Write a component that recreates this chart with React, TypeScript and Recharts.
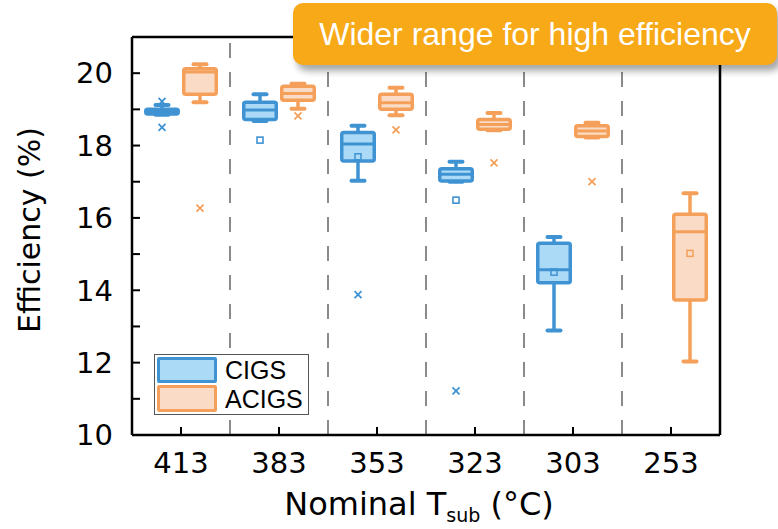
import React from 'react';
import { BarChart, Bar, XAxis, YAxis, ReferenceLine } from 'recharts';

const categories = ['413', '383', '353', '323', '303', '253'];

const cigsLow = [18.85, 18.68, 17.03, 17.0, 12.89, null];
const cigsQ1 = [18.87, 18.72, 17.57, 17.02, 14.21, null];
const cigsMedian = [18.94, 18.98, 18.04, 17.21, 14.57, null];
const cigsQ3 = [19.0, 19.2, 18.36, 17.36, 15.3, null];
const cigsHigh = [19.12, 19.42, 18.55, 17.55, 15.47, null];
const cigsMean = [null, null, 17.69, null, 14.5, null];
const cigsCross = [[19.22, 18.5], [], [13.88], [11.22], [], []];
const cigsSquare = [[], [18.15], [], [16.49], [], []];

const acigsLow = [19.2, 19.02, 18.84, 18.42, 18.22, 12.03];
const acigsQ1 = [19.42, 19.25, 19.0, 18.45, 18.25, 13.73];
const acigsMedian = [20.03, 19.44, 19.18, 18.58, 18.4, 15.62];
const acigsQ3 = [20.12, 19.64, 19.42, 18.72, 18.55, 16.1];
const acigsHigh = [20.25, 19.71, 19.6, 18.9, 18.63, 16.68];
const acigsMean = [null, null, null, null, null, 15.02];
const acigsCross = [[16.27], [18.82], [18.43], [17.52], [17.0], []];
const acigsSquare = [[], [], [], [], [], []];

const yTicks = [10, 11, 12, 13, 14, 15, 16, 17, 18, 19, 20];

const seriesNames = ['CIGS', 'ACIGS'];
const BLUE = '#3f93d3';
const BLUE_FILL = '#aadaf6';
const ORANGE = '#f4a05a';
const ORANGE_FILL = '#fadcc6';

const axisFont = "'DejaVu Sans', Verdana, sans-serif";
const textFont = "'Liberation Sans', Arial, sans-serif";

type Stats = {
  low: number; q1: number; median: number; q3: number; high: number;
  mean: number | null; cross: number[]; square: number[];
} | null;

const buildStats = (
  low: (number | null)[], q1: (number | null)[], med: (number | null)[],
  q3: (number | null)[], high: (number | null)[], mean: (number | null)[],
  cross: number[][], square: number[][], i: number
): Stats => {
  if (low[i] == null) return null;
  return {
    low: low[i] as number, q1: q1[i] as number, median: med[i] as number,
    q3: q3[i] as number, high: high[i] as number, mean: mean[i],
    cross: cross[i], square: square[i],
  };
};

const data = categories.map((cat, i) => {
  const c = buildStats(cigsLow, cigsQ1, cigsMedian, cigsQ3, cigsHigh, cigsMean, cigsCross, cigsSquare, i);
  const a = buildStats(acigsLow, acigsQ1, acigsMedian, acigsQ3, acigsHigh, acigsMean, acigsCross, acigsSquare, i);
  return {
    cat,
    cigs: c ? [c.low, c.high] : null,
    acigs: a ? [a.low, a.high] : null,
    cigsStats: c,
    acigsStats: a,
  };
});

const makeBoxShape = (key: 'cigsStats' | 'acigsStats', color: string, fill: string) => (props: any) => {
  const { x, y, width, height, payload } = props;
  const s: Stats = payload ? payload[key] : null;
  if (!s || x == null || y == null || height == null) return <g />;
  const top = Math.min(y, y + height);
  const bottom = Math.max(y, y + height);
  const span = s.high - s.low;
  const py = (v: number) => bottom - ((v - s.low) / span) * (bottom - top);
  const cx = x + width / 2;
  const sw = 3.5;
  const capW = 13;
  const boxTop = py(s.q3);
  const boxBot = py(s.q1);
  return (
    <g>
      <line x1={cx} x2={cx} y1={py(s.high)} y2={boxTop} stroke={color} strokeWidth={sw} />
      <line x1={cx} x2={cx} y1={boxBot} y2={py(s.low)} stroke={color} strokeWidth={sw} />
      <line x1={cx - capW / 2} x2={cx + capW / 2} y1={py(s.high)} y2={py(s.high)} stroke={color} strokeWidth={4} strokeLinecap="round" />
      <line x1={cx - capW / 2} x2={cx + capW / 2} y1={py(s.low)} y2={py(s.low)} stroke={color} strokeWidth={4} strokeLinecap="round" />
      <rect x={x + sw / 2} y={boxTop} width={width - sw} height={Math.max(boxBot - boxTop, 0.5)}
        fill={fill} stroke={color} strokeWidth={sw} rx={2} />
      <line x1={x + sw / 2} x2={x + width - sw / 2} y1={py(s.median)} y2={py(s.median)} stroke={color} strokeWidth={3} />
      {s.mean != null && (
        <rect x={cx - 3} y={py(s.mean) - 3} width={6} height={6} fill="none" stroke={color} strokeWidth={1.5} />
      )}
      {s.square.map((v, k) => (
        <rect key={'s' + k} x={cx - 3} y={py(v) - 3} width={6} height={6} fill="#fff" stroke={color} strokeWidth={1.6} />
      ))}
      {s.cross.map((v, k) => (
        <g key={'c' + k}>
          <line x1={cx - 3.5} x2={cx + 3.5} y1={py(v) - 3.5} y2={py(v) + 3.5} stroke={color} strokeWidth={1.8} />
          <line x1={cx - 3.5} x2={cx + 3.5} y1={py(v) + 3.5} y2={py(v) - 3.5} stroke={color} strokeWidth={1.8} />
        </g>
      ))}
    </g>
  );
};

const YLabel = (props: any) => {
  const vb = props.viewBox || { x: 0, y: 37, width: 132, height: 398 };
  const cy = vb.y + vb.height / 2 - 6;
  const lx = 40;
  return (
    <text x={lx} y={cy} transform={`rotate(-90 ${lx} ${cy})`} textAnchor="middle"
      fontSize={30} fontFamily={axisFont} fill="#000">Efficiency (%)</text>
  );
};

const XLabel = (props: any) => {
  const vb = props.viewBox || { x: 132, y: 435, width: 588, height: 94 };
  const cx = vb.x + vb.width / 2 - 7;
  const by = vb.y + 80;
  return (
    <text x={cx} y={by} textAnchor="middle" fontSize={32} fontFamily={axisFont} fill="#000">
      Nominal T<tspan fontSize={19} dy={7}>sub</tspan><tspan dy={-7}> (°C)</tspan>
    </text>
  );
};

const legendColors = [[BLUE, BLUE_FILL], [ORANGE, ORANGE_FILL]];

export default function App() {
  return (
    <div style={{ position: 'absolute', left: 0, top: 0, width: 778, height: 529, background: '#fff' }}>
      <BarChart width={778} height={529} data={data}
        margin={{ top: 37, right: 58, bottom: 0, left: 0 }}
        barSize={36} barGap={2}>
        <XAxis dataKey="cat" height={94} interval={0}
          tickSize={-8} tickMargin={25}
          axisLine={{ stroke: '#000', strokeWidth: 2.5 }}
          tickLine={{ stroke: '#000', strokeWidth: 2 }}
          tick={{ fill: '#000', fontSize: 29, fontFamily: axisFont }}
          label={<XLabel />} />
        <YAxis type="number" domain={[10, 21]} ticks={yTicks} interval={0} width={132}
          allowDataOverflow
          tickSize={-8} tickMargin={27}
          tickFormatter={(v: number) => (v % 2 === 0 ? String(v) : '')}
          axisLine={{ stroke: '#000', strokeWidth: 2.5 }}
          tickLine={{ stroke: '#000', strokeWidth: 2 }}
          tick={{ fill: '#000', fontSize: 29, fontFamily: axisFont }}
          label={<YLabel />} />
        {categories.slice(1).map((c) => (
          <ReferenceLine key={c} x={c} position="start" stroke="#8a8a8a" strokeWidth={2} strokeDasharray="15 14" />
        ))}
        <ReferenceLine x={categories[categories.length - 1]} position="end" stroke="#000" strokeWidth={2.5} />
        <ReferenceLine y={21} stroke="#000" strokeWidth={2.5} />
        <Bar dataKey="cigs" name={seriesNames[0]} isAnimationActive={false}
          shape={makeBoxShape('cigsStats', BLUE, BLUE_FILL)} activeBar={false} />
        <Bar dataKey="acigs" name={seriesNames[1]} isAnimationActive={false}
          shape={makeBoxShape('acigsStats', ORANGE, ORANGE_FILL)} activeBar={false} />
      </BarChart>

      <div style={{
        position: 'absolute', left: 154, top: 354, width: 155, height: 61,
        border: '1.5px solid #555', background: '#fff', boxSizing: 'border-box',
      }} />
      {seriesNames.map((n, i) => (
        <React.Fragment key={n}>
          <div style={{
            position: 'absolute', left: 157, top: i === 0 ? 357 : 385, width: 60, height: i === 0 ? 26 : 27,
            border: `3.5px solid ${legendColors[i][0]}`, background: legendColors[i][1],
            boxSizing: 'border-box', borderRadius: 2,
          }} />
          <div style={{
            position: 'absolute', left: 225, top: i === 0 ? 355 : 384, height: 30, lineHeight: '30px',
            fontSize: 25, fontFamily: textFont, color: '#000',
          }}>{n}</div>
        </React.Fragment>
      ))}

      <div style={{
        position: 'absolute', left: 293, top: 3, width: 484, height: 62,
        background: '#f7a918', borderRadius: 10,
        boxShadow: '4px 6px 7px rgba(0,0,0,0.35)',
        display: 'flex', alignItems: 'center', justifyContent: 'center',
        color: '#fff', fontSize: 32, fontFamily: textFont,
      }}>Wider range for high efficiency</div>
    </div>
  );
}
